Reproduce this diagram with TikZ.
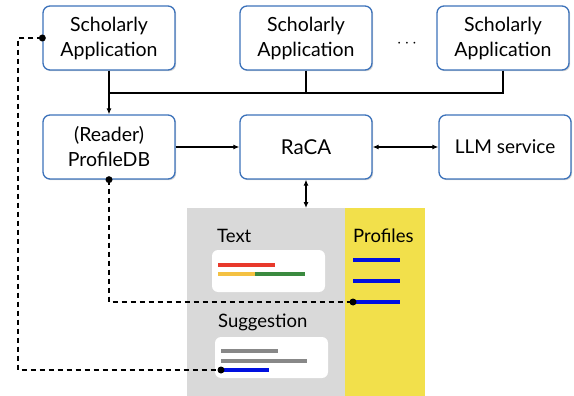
\documentclass[tikz,border=0pt]{standalone}
\usepackage{fontspec}
\setmainfont{Lato}
\usetikzlibrary{arrows.meta,shadows}
\definecolor{boxblue}{HTML}{3C72BA}
\definecolor{panelgray}{HTML}{D9D9D9}
\definecolor{panelyellow}{HTML}{F2E04B}
\definecolor{lred}{HTML}{E8392B}
\definecolor{lyellow}{HTML}{F4C142}
\definecolor{lgreen}{HTML}{3A8A3F}
\definecolor{lgray}{HTML}{888888}
\definecolor{lblue}{HTML}{0010E0}
\begin{document}
\begin{tikzpicture}[x=1pt,y=-1pt,
  appbox/.style={draw=boxblue,line width=1.3pt,rounded corners=7pt,fill=white,
    minimum width=132pt,minimum height=64pt,align=center,inner sep=2pt,
    font=\fontsize{19.5}{25}\selectfont,
    drop shadow={shadow xshift=1.2pt,shadow yshift=-1.2pt,opacity=0.35,fill=gray}},
  conn/.style={line width=1.1pt,draw=black},
  arr/.style={conn,-{Latex[length=6pt,width=5pt]}},
  darr/.style={conn,{Latex[length=6pt,width=5pt]}-{Latex[length=6pt,width=5pt]}},
  dashline/.style={line width=1.3pt,dash pattern=on 5pt off 4pt},
  dotc/.style={circle,fill=black,inner sep=0pt,minimum size=7pt},
  bar/.style={line width=4pt},
  lbl/.style={font=\fontsize{18.5}{22}\selectfont,anchor=base west,inner sep=0pt}
]
\useasboundingbox (0,0) rectangle (574,396);
% panels
\fill[panelgray] (187,208) rectangle (345,396);
\fill[panelyellow] (345,208) rectangle (425,396);
% boxes
\node[appbox] (sa1) at (109,38) {Scholarly\\Application};
\node[appbox] (sa2) at (306,38) {Scholarly\\Application};
\node[appbox] (sa3) at (503,38) {Scholarly\\Application};
\node (dots) at (407,44) {\fontsize{19}{24}\selectfont$\cdots$};
\node[appbox] (pdb) at (109,147) {(Reader)\\ProfileDB};
\node[appbox,font=\fontsize{20.5}{24}\selectfont] (raca) at (306,147) {RaCA};
\node[appbox,font=\fontsize{19}{24}\selectfont] (llm) at (505,147) {LLM service};
% panel anchors
\coordinate (ptop) at (306,208);
\node[lbl] (textl) at (217,242) {Text};
\node[lbl] (profl) at (353,242) {Profiles};
\node[lbl] (suggl) at (218,327) {Suggestion};
\node[fill=white,rounded corners=6pt,minimum width=113pt,minimum height=42pt,inner sep=0pt] (tbox) at (268.5,271) {};
\node[fill=white,rounded corners=6pt,minimum width=113pt,minimum height=41pt,inner sep=0pt] (sbox) at (271.5,357.5) {};
% text lines
\draw[bar,lred] (218,264.5) -- (275,264.5);
\draw[bar,lyellow] (218,273.5) -- (255,273.5);
\draw[bar,lgreen] (255,273.5) -- (305,273.5);
\draw[bar,lgray] (221,351) -- (278,351);
\draw[bar,lgray] (221,360.5) -- (307,360.5);
\draw[bar,lblue] (221,370) -- (269,370);
\draw[bar,lblue] (353,260) -- (400,260);
\draw[bar,lblue] (353,281) -- (400,281);
\draw[bar,lblue] (353,302) -- (400,302);
\coordinate (sugdot) at (221,370);
\coordinate (profdot) at (353,302);
% bus
\coordinate (busL) at (109,93);
\draw[conn] (sa2.south) -- (306,93);
\draw[conn] (sa3.south) |- (busL);
\draw[arr] (sa1.south) -- (pdb.north);
\draw[arr] (pdb.east) -- (raca.west);
\draw[darr] (raca.east) -- (llm.west);
\draw[darr] (raca.south) -- (ptop);
% dashed
\coordinate (l1) at (18,38);
\draw[dashline] (pdb.south) |- (profdot);
\draw[dashline] (sa1.west) -- (l1) |- (sugdot);
\node[dotc] at (pdb.south) {};
\node[dotc] at (profdot) {};
\node[dotc] at (sa1.west) {};
\node[dotc] at (sugdot) {};
\end{tikzpicture}
\end{document}
